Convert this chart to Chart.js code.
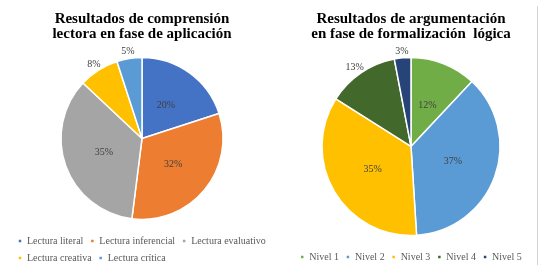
<!DOCTYPE html>
<html>
<head>
<meta charset="utf-8">
<script src="https://cdn.jsdelivr.net/npm/chart.js@4"></script>
<style>
  body { margin: 0; background: #fff; width: 558px; height: 279px; overflow: hidden; position: relative; }
  canvas { position: absolute; top: 0; }
  #frame { position: absolute; left: 537px; top: 6px; width: 1px; height: 259px; background: #d4d4d4; }
</style>
</head>
<body>
<canvas id="chart-lectura" width="279" height="279" style="left:1px"></canvas>
<canvas id="chart-argumentacion" width="260" height="279" style="left:281px"></canvas>
<div id="frame"></div>
<script>
// left chart
const lecturaTitle = ['Resultados de comprensión', 'lectora en fase de aplicación'];
const lecturaLabels = ['Lectura literal', 'Lectura inferencial', 'Lectura evaluativo', 'Lectura creativa', 'Lectura crítica'];
const lecturaValues = [20, 32, 35, 8, 5];
const lecturaColors = ['#4472C4', '#ED7D31', '#A5A5A5', '#FFC000', '#5B9BD5'];

// right chart
const nivelTitle = ['Resultados de argumentación', 'en fase de formalización  lógica'];
const nivelLabels = ['Nivel 1', 'Nivel 2', 'Nivel 3', 'Nivel 4', 'Nivel 5'];
const nivelValues = [12, 37, 35, 13, 3];
const nivelColors = ['#70AD47', '#5B9BD5', '#FFC000', '#43682B', '#264478'];

const FONT = '"Liberation Serif", "Times New Roman", serif';

// draws the "xx%" labels, inside the slice or just outside for the listed ones
const pctLabels = {
    id: 'pctLabels',
    afterDatasetsDraw(chart, args, opts) {
        const ctx = chart.ctx;
        const meta = chart.getDatasetMeta(0);
        const values = chart.data.datasets[0].data;
        ctx.save();
        ctx.font = '10px ' + FONT;
        ctx.fillStyle = '#404040';
        ctx.textAlign = 'center';
        ctx.textBaseline = 'middle';
        meta.data.forEach((arc, i) => {
            const p = arc.getProps(['x', 'y', 'startAngle', 'endAngle', 'outerRadius'], true);
            const mid = (p.startAngle + p.endAngle) / 2;
            const dx = Math.cos(mid), dy = Math.sin(mid);
            const text = values[i] + '%';
            let x, y;
            if (opts.outside.includes(i)) {
                // keep the text box just clear of the rim
                const halfW = ctx.measureText(text).width / 2;
                x = p.x + dx * (p.outerRadius + 2 + halfW);
                y = p.y + dy * (p.outerRadius + 2 + 5);
            } else {
                x = p.x + dx * p.outerRadius * 0.5;
                y = p.y + dy * p.outerRadius * 0.5;
            }
            ctx.fillText(text, x, y);
        });
        ctx.restore();
    }
};

function makePie(id, title, labels, values, colors, radius, padding, legendAlign, outside) {
    const ctx = document.getElementById(id).getContext('2d');
    return new Chart(ctx, {
        type: 'pie',
        data: {
            labels: labels,
            datasets: [{
                data: values,
                backgroundColor: colors,
                borderColor: '#FFFFFF',
                borderWidth: 1.5,
                radius: radius
            }]
        },
        options: {
            responsive: false,
            animation: false,
            layout: {
                padding: padding
            },
            plugins: {
                title: {
                    display: true,
                    text: title,
                    color: '#000000',
                    font: { family: FONT, size: 15, weight: 'bold', lineHeight: 1.03 },
                    padding: { top: 11, bottom: 6 }
                },
                legend: {
                    position: 'bottom',
                    align: legendAlign,
                    labels: {
                        boxWidth: 4,
                        boxHeight: 4,
                        padding: 7,
                        color: '#595959',
                        font: { family: FONT, size: 10 }
                    }
                },
                tooltip: { enabled: false },
                pctLabels: { outside: outside }
            }
        },
        plugins: [pctLabels]
    });
}

makePie('chart-lectura', lecturaTitle, lecturaLabels, lecturaValues, lecturaColors, 81,
    { left: 10, right: 7, bottom: 6 }, 'start', [3, 4]);
makePie('chart-argumentacion', nivelTitle, nivelLabels, nivelValues, nivelColors, 89,
    { bottom: 7 }, 'center', [3, 4]);
</script>
</body>
</html>
